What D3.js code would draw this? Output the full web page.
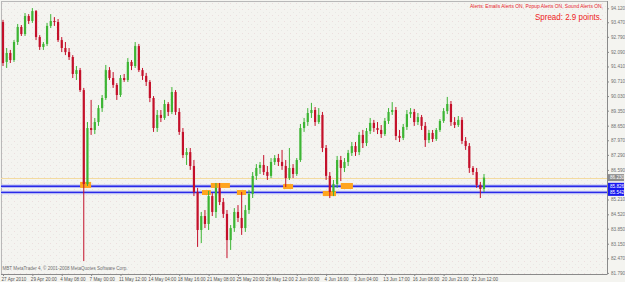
<!DOCTYPE html>
<html><head><meta charset="utf-8">
<script src="https://cdn.jsdelivr.net/npm/d3@7"></script>
<style>
html,body{margin:0;padding:0;background:#f4f4f0;}
svg{display:block;}
text{font-family:"Liberation Sans",Arial,sans-serif;}
</style></head><body>
<svg id="c" width="625" height="282"></svg>
<script>
const open = [93.48,91.62,92.04,91.71,92.55,93.25,92.92,93.76,93.53,93.99,
92.78,92.32,92.46,93.30,93.53,93.48,92.64,92.27,92.08,91.85,
91.06,91.24,90.31,85.93,88.54,88.45,88.82,89.47,89.94,91.24,
90.87,90.55,90.08,90.87,90.78,91.62,91.43,92.36,91.24,90.97,
90.69,89.94,88.54,89.15,89.01,89.66,89.29,90.22,89.29,88.36,
87.28,87.42,86.77,85.56,83.79,84.44,84.07,85.37,84.63,85.75,
85.09,84.54,83.32,83.88,84.63,84.35,83.88,84.72,85.47,86.31,
86.68,86.82,86.49,86.31,86.96,87.14,86.96,86.77,86.21,86.68,
86.40,87.05,88.54,88.82,89.24,89.38,88.82,89.15,87.61,86.31,
85.56,85.93,87.05,86.68,86.96,87.38,87.70,87.42,88.22,87.84,
88.40,88.78,88.54,88.45,88.26,88.87,89.29,89.38,88.17,88.08,
88.59,89.19,89.29,88.82,89.05,88.64,87.98,88.31,88.03,88.45,
88.87,89.33,89.66,88.82,88.68,88.92,87.94,87.70,86.68,86.49,
85.89,85.70];
const high = [93.58,92.27,92.18,92.64,93.39,93.34,93.90,93.85,94.13,94.04,
92.87,92.55,93.44,93.85,93.71,93.62,92.78,92.55,92.27,91.94,
91.43,91.34,90.41,88.82,89.85,89.01,89.61,90.08,91.48,91.38,
91.15,90.64,91.01,91.06,91.80,91.71,92.55,92.46,91.34,91.11,
90.78,90.03,89.38,89.38,89.85,89.75,90.45,90.31,89.47,88.54,
87.61,87.61,87.05,85.75,84.63,84.72,85.61,85.51,85.98,85.98,
85.28,84.72,84.02,84.81,84.95,85.56,84.95,85.65,86.49,86.86,
86.96,87.28,86.77,87.14,87.28,87.33,87.52,87.05,87.61,86.86,
87.14,88.73,89.01,89.47,89.71,89.52,89.47,89.29,87.75,86.49,
86.12,87.24,87.24,87.14,87.52,87.89,87.89,88.36,88.45,88.54,
89.01,88.92,88.82,88.68,89.01,89.47,89.75,89.52,88.45,88.73,
89.38,89.47,89.43,89.24,89.15,88.82,88.45,88.45,88.54,88.96,
89.47,89.99,89.80,89.05,89.10,89.05,88.12,87.84,86.77,86.68,
86.03,86.40];
const low = [91.43,91.34,91.57,91.62,92.41,92.83,92.83,93.39,93.44,92.64,
92.18,92.18,92.36,93.20,93.30,92.55,92.08,91.94,91.71,90.87,
90.78,90.22,82.34,85.84,88.22,88.26,88.64,89.29,89.85,90.78,
90.41,89.85,89.99,90.69,90.69,91.24,91.34,91.15,90.78,90.50,
89.75,88.36,88.36,88.82,88.92,89.10,89.19,89.15,88.22,87.14,
86.82,86.59,85.37,83.00,83.18,83.88,83.79,84.44,84.35,84.95,
84.35,82.48,82.86,83.70,84.16,83.56,83.70,84.54,85.28,86.12,
86.40,86.35,86.12,86.21,86.82,86.77,86.59,85.79,86.12,86.21,
86.31,86.96,88.36,88.64,89.01,88.64,88.73,87.42,86.12,85.28,
85.37,85.75,86.07,86.49,86.77,87.24,87.24,87.28,87.61,87.70,
88.26,88.36,88.26,88.08,88.17,88.73,89.15,87.98,87.89,87.98,
88.45,89.01,88.64,88.68,88.45,87.66,87.84,87.89,87.94,88.36,
88.78,89.19,88.64,88.54,88.59,87.80,87.52,86.45,86.35,85.75,
85.28,85.56];
const close = [91.57,92.04,91.71,92.55,93.25,92.92,93.76,93.53,93.99,92.78,
92.32,92.46,93.30,93.53,93.48,92.64,92.27,92.08,91.85,91.06,
91.24,90.31,85.93,88.54,88.45,88.82,89.47,89.94,91.24,90.87,
90.55,90.08,90.87,90.78,91.62,91.43,92.36,91.24,90.97,90.69,
89.94,88.54,89.15,89.01,89.66,89.29,90.22,89.29,88.36,87.28,
87.42,86.77,85.56,83.79,84.44,84.07,85.37,84.63,85.75,85.09,
84.54,83.32,83.88,84.63,84.35,83.88,84.72,85.47,86.31,86.68,
86.82,86.49,86.31,86.96,87.14,86.96,86.77,86.21,86.68,86.40,
87.05,88.54,88.82,89.24,89.38,88.82,89.15,87.61,86.31,85.56,
85.93,87.05,86.68,86.96,87.38,87.70,87.42,88.22,87.84,88.40,
88.78,88.54,88.45,88.26,88.87,89.29,89.38,88.17,88.08,88.59,
89.19,89.29,88.82,89.05,88.64,87.98,88.31,88.03,88.45,88.87,
89.33,89.66,88.82,88.68,88.92,87.94,87.70,86.68,86.49,85.89,
85.70,86.23];

const xLabelBars = [0,8,16,24,32,40,48,56,64,72,80,88,96,104,112,120,128];
const xLabels = ["27 Apr 2010","29 Apr 20:00","4 May 08:00","7 May 00:00","11 May 12:00",
  "14 May 04:00","18 May 16:00","21 May 08:00","25 May 20:00","28 May 12:00","2 Jun 00:00",
  "4 Jun 16:00","9 Jun 04:00","13 Jun 17:00","16 Jun 08:00","20 Jun 21:00","23 Jun 12:00"];
const yTicks = [94.120,93.470,92.790,92.090,91.410,90.710,90.030,89.350,88.650,87.970,
  87.290,86.590,85.210,84.520,83.850,83.150,82.470,81.790];

const blueLevels = [85.826, 85.542];
const bidPrice = 86.230;

const zoneStart = [21.0, 54.2, 56.6, 63.7, 76.3, 87.1, 92.0];
const zoneEnd   = [24.0, 56.6, 61.8, 66.2, 79.0, 90.7, 95.3];
const zoneTop   = [86.03, 85.65, 85.98, 85.65, 85.93, 85.61, 85.98];
const zoneBottom= [85.75, 85.42, 85.75, 85.42, 85.70, 85.37, 85.70];

const alertText = "Alerts:  Emails Alerts ON,  Popup Alerts ON,  Sound Alerts ON,";
const spreadText = "Spread: 2.9 points.";
const copyright = "MBT MetaTrader 4, \u00a9 2001-2008 MetaQuotes Software Corp.";

const W = 625, H = 282;
const plotL = 1, plotR = 607, plotT = 1, plotB = 274;

const svg = d3.select("#c");
const x = d3.scaleLinear().domain([0, 131]).range([3, 484]);
const y = d3.scaleLinear().domain([81.79, 94.12]).range([272.9, 8.3]);

const bars = open.map((o, i) => ({i, o, h: high[i], l: low[i], c: close[i]}));

// background with dotted texture
const defs = svg.append("defs");
const pat = defs.append("pattern").attr("id", "dots").attr("width", 6).attr("height", 6)
  .attr("patternUnits", "userSpaceOnUse");
pat.append("rect").attr("width", 6).attr("height", 6).attr("fill", "#f4f4f0");
pat.append("rect").attr("x", 2).attr("y", 3).attr("width", 1).attr("height", 1).attr("fill", "#ecdede");
pat.append("rect").attr("x", 5).attr("y", 0).attr("width", 1).attr("height", 1).attr("fill", "#e8e8e4");
svg.append("rect").attr("width", W).attr("height", H).attr("fill", "#f4f4f0");
svg.append("rect").attr("x", plotL).attr("y", plotT).attr("width", plotR - plotL).attr("height", plotB - plotT)
  .attr("fill", "url(#dots)");

// frame
svg.append("rect").attr("x", plotL + 0.5).attr("y", plotT + 0.5)
  .attr("width", plotR - plotL).attr("height", plotB - plotT)
  .attr("fill", "none").attr("stroke", "#b8b8b8").attr("stroke-width", 1);

// bid line (pale)
svg.append("line").attr("x1", plotL).attr("x2", plotR)
  .attr("y1", Math.round(y(bidPrice)) + 0.5).attr("y2", Math.round(y(bidPrice)) + 0.5)
  .attr("stroke", "#f3dba0").attr("stroke-width", 1);

// blue levels
const bl = svg.append("g");
blueLevels.forEach(v => {
  const yy = y(v);
  bl.append("line").attr("x1", plotL).attr("x2", plotR).attr("y1", yy).attr("y2", yy)
    .attr("stroke", "#b8bcf4").attr("stroke-width", 3.5);
  bl.append("line").attr("x1", plotL).attr("x2", plotR).attr("y1", yy).attr("y2", yy)
    .attr("stroke", "#2a2ae8").attr("stroke-width", 1.4);
});

// zones (drawn above the level lines)
svg.append("g").selectAll("rect").data(zoneStart).join("rect")
  .attr("x", (d, i) => x(zoneStart[i]))
  .attr("width", (d, i) => x(zoneEnd[i]) - x(zoneStart[i]))
  .attr("y", (d, i) => y(zoneTop[i]))
  .attr("height", (d, i) => y(zoneBottom[i]) - y(zoneTop[i]))
  .attr("fill", "#ffa51e");

// candles
const green = "#3db534", red = "#c4102a";
const cg = svg.append("g");
cg.selectAll("line").data(bars).join("line")
  .attr("x1", d => x(d.i)).attr("x2", d => x(d.i))
  .attr("y1", d => y(d.h)).attr("y2", d => y(d.l))
  .attr("stroke", d => d.c >= d.o ? green : red).attr("stroke-width", 1);
cg.selectAll("rect").data(bars).join("rect")
  .attr("x", d => x(d.i) - 1.1).attr("width", 2.2)
  .attr("y", d => y(Math.max(d.o, d.c)))
  .attr("height", d => Math.max(1, Math.abs(y(d.o) - y(d.c))))
  .attr("fill", d => d.c >= d.o ? green : red);

// right axis
const ay = svg.append("g").attr("transform", `translate(${plotR},0)`)
  .call(d3.axisRight(y).tickValues(yTicks).tickFormat(d3.format(".3f")).tickSize(2).tickPadding(2));
ay.select(".domain").attr("stroke", "#8a8a8a").attr("d", `M0.5,${plotT}V${plotB}`);
ay.selectAll(".tick line").attr("stroke", "#8a8a8a");
ay.selectAll(".tick text").attr("fill", "#707070").style("font-size", "4.6px");

// bottom axis
const ax = svg.append("g").attr("transform", `translate(0,${plotB})`)
  .call(d3.axisBottom(x).tickValues(xLabelBars).tickFormat((d, i) => xLabels[i]).tickSize(2).tickPadding(1.5));
ax.select(".domain").attr("stroke", "#8a8a8a").attr("d", `M${plotL},0.5H${plotR}`);
ax.selectAll(".tick line").attr("stroke", "#8a8a8a");
ax.selectAll(".tick text").attr("fill", "#555").attr("text-anchor", "start").attr("dx", -2)
  .style("font-size", "4.6px");

// right-side price labels
function priceBox(v, fill) {
  const yy = y(v);
  svg.append("rect").attr("x", plotR + 1).attr("y", yy - 3.5).attr("width", 16).attr("height", 7).attr("fill", fill);
  svg.append("text").attr("x", plotR + 3).attr("y", yy).attr("dy", "0.35em")
    .attr("fill", "#fff").style("font-size", "4.6px").text(d3.format(".3f")(v));
}
priceBox(bidPrice, "#8c8c8c");
blueLevels.forEach(v => priceBox(v, "#1818f0"));

// texts
svg.append("text").attr("x", 603).attr("y", 8).attr("text-anchor", "end")
  .attr("fill", "#e8202a").style("font-size", "5px").attr("textLength", 133).attr("lengthAdjust", "spacingAndGlyphs")
  .text(alertText);
svg.append("text").attr("x", 602).attr("y", 20).attr("text-anchor", "end")
  .attr("fill", "#ee1c24").style("font-size", "9px").attr("textLength", 67).attr("lengthAdjust", "spacingAndGlyphs")
  .text(spreadText);
svg.append("text").attr("x", 2.5).attr("y", 270).attr("fill", "#707070")
  .style("font-size", "4.6px").attr("textLength", 125).attr("lengthAdjust", "spacingAndGlyphs")
  .text(copyright);
</script>
</body></html>
